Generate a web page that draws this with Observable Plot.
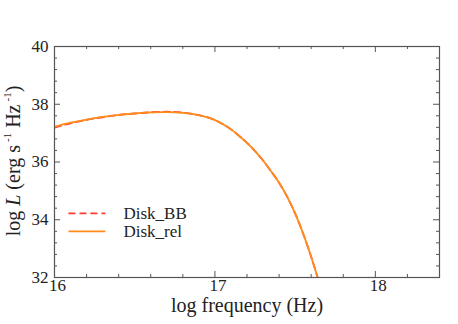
<!DOCTYPE html>
<html><head><meta charset="utf-8">
<script src="https://cdn.jsdelivr.net/npm/d3@7"></script>
<script src="https://cdn.jsdelivr.net/npm/@observablehq/plot@0.6"></script>
<style>body{margin:0;background:#fff}</style>
</head><body><div id="chart"></div>
<script>
const logFreq = [16.0,16.1,16.2,16.3,16.4,16.5,16.6,16.7,16.8,16.9,17.0,17.05,17.1,17.15,17.2,17.25,17.3,17.35,17.4,17.45,17.5,17.55,17.6,17.64,17.66];
const diskRel = [37.22,37.36,37.47,37.56,37.63,37.68,37.72,37.73,37.70,37.62,37.45,37.31,37.13,36.91,36.66,36.38,36.05,35.68,35.28,34.80,34.22,33.52,32.72,32.0,31.6];
const diskBB  = [37.19,37.34,37.46,37.55,37.63,37.68,37.72,37.74,37.71,37.62,37.45,37.31,37.13,36.91,36.66,36.38,36.05,35.68,35.28,34.80,34.22,33.52,32.72,32.0,31.6];
const seriesNames = ["Disk_BB","Disk_rel"];
const xMajor = [16,17,18];
const xMinor = [16.2,16.4,16.6,16.8,17.2,17.4,17.6,17.8,18.2];
const yMajor = [32,34,36,38,40];
const yMinor = [32.4,32.8,33.2,33.6,34.4,34.8,35.2,35.6,36.4,36.8,37.2,37.6,38.4,38.8,39.2,39.6];

const bb = logFreq.map((x,i)=>({x, y: diskBB[i]}));
const rel = logFreq.map((x,i)=>({x, y: diskRel[i]}));
const W=458,H=324,mL=54,mR=19,mT=46,mB=47;
const pw=W-mL-mR, ph=H-mT-mB;
const frameCol="#555";
const red="#ff3b30", orange="#ff8c1a";
const serif="'Liberation Serif', 'DejaVu Serif', serif";

const svg = Plot.plot({
  width:W, height:H, marginLeft:mL, marginRight:mR, marginTop:mT, marginBottom:mB,
  x:{domain:[16,18.4]}, y:{domain:[32,40]},
  style:{fontFamily:serif, fontSize:"16px", background:"#fff", color:"#222"},
  marks:[
    Plot.axisX(xMajor,{tickSize:0, tickPadding:1, dx:3, label:null, fontSize:17, fill:"#222", tickFormat:d=>String(d)}),
    Plot.axisY(yMajor,{tickSize:0, tickPadding:6, label:null, fontSize:17, fill:"#222", tickFormat:d=>String(d)}),
    Plot.ruleX(xMajor,{x:d=>d, insetTop:ph-6, stroke:frameCol}),
    Plot.ruleX(xMinor,{x:d=>d, insetTop:ph-3, stroke:frameCol}),
    Plot.ruleX(xMajor,{x:d=>d, insetBottom:ph-6, stroke:frameCol}),
    Plot.ruleX(xMinor,{x:d=>d, insetBottom:ph-3, stroke:frameCol}),
    Plot.ruleY(yMajor,{y:d=>d, insetRight:pw-6, stroke:frameCol}),
    Plot.ruleY(yMinor,{y:d=>d, insetRight:pw-3, stroke:frameCol}),
    Plot.ruleY(yMajor,{y:d=>d, insetLeft:pw-6, stroke:frameCol}),
    Plot.ruleY(yMinor,{y:d=>d, insetLeft:pw-3, stroke:frameCol}),
    Plot.line(bb,{x:"x", y:"y", stroke:red, strokeWidth:1.8, strokeDasharray:"7,4", curve:"monotone-x", clip:true}),
    Plot.line(rel,{x:"x", y:"y", stroke:orange, strokeWidth:1.8, curve:"monotone-x", clip:true}),
    Plot.ruleY([seriesNames[0]],{y:34.22, x1:16.09, x2:16.32, stroke:red, strokeWidth:1.8, strokeDasharray:"7,4"}),
    Plot.ruleY([seriesNames[1]],{y:33.60, x1:16.09, x2:16.32, stroke:orange, strokeWidth:1.8}),
    Plot.text(seriesNames,{text:d=>d, y:(d,i)=>34.22-i*0.62, x:16.43, textAnchor:"start", fontSize:17, fill:"#222", style:"letter-spacing:0.6px"}),
    Plot.frame({stroke:frameCol, strokeWidth:1.2}),
    Plot.text(["log frequency (Hz)"],{text:d=>d, frameAnchor:"bottom", dy:20, lineAnchor:"top", fontSize:20, fill:"#222"})
  ]
});
document.getElementById("chart").appendChild(svg);
// y-axis label with italic L and superscripts
const s = d3.select(svg);
const t = s.append("text")
  .attr("transform", `translate(15,161) rotate(-90)`)
  .attr("text-anchor","middle").attr("dominant-baseline","middle")
  .attr("font-family",serif).attr("font-size",20).attr("fill","#222");
t.append("tspan").text("log ");
t.append("tspan").attr("font-style","italic").text("L");
t.append("tspan").text(" (erg s");
t.append("tspan").attr("font-size",11).attr("dx",3).attr("dy",-7).text("-1");
t.append("tspan").attr("dy",7).text(" Hz");
t.append("tspan").attr("font-size",11).attr("dx",3).attr("dy",-7).text("-1");
t.append("tspan").attr("dy",7).text(")");
</script></body></html>
